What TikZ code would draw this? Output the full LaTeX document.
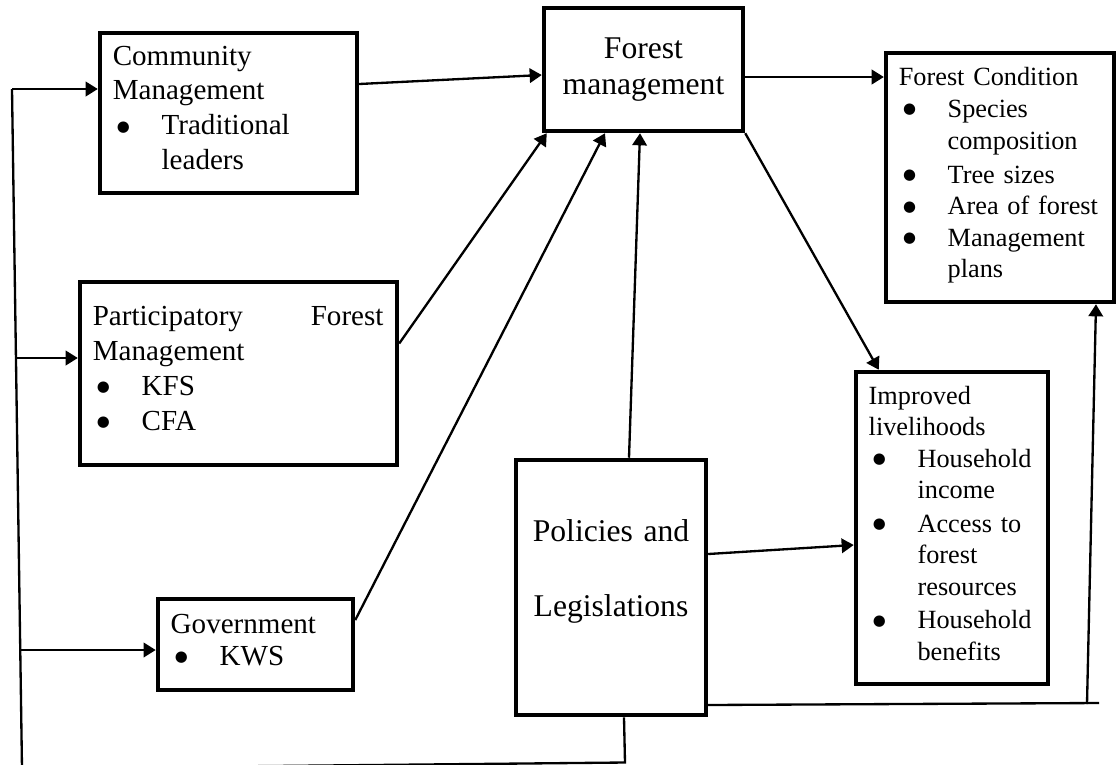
\documentclass[tikz,border=0pt]{standalone}
\usepackage{fontspec}
\setmainfont{Liberation Serif}
\newfontfamily\symfont{DejaVu Sans}
\usetikzlibrary{arrows.meta,calc}

% bullet with hanging text, as in the word-processor lists
\newcommand{\bitem}[1]{\makebox[21pt][l]{\hspace{1.8pt}\raisebox{1.5pt}{\symfont\fontsize{6.4}{6.5}\selectfont ●}}\begin{tabular}[t]{@{}l@{}}#1\end{tabular}}

\begin{document}
\begin{tikzpicture}[x=0.43pt, y=-0.43pt]
\tikzset{
    mybox/.style={rectangle, draw=black, line width=1.9pt, inner xsep=5.5pt, inner ysep=0pt, align=left},
    myarrow/.style={-{Triangle[length=5.2pt,width=6.2pt]}, line width=1pt},
    myline/.style={line width=1pt}
}
\useasboundingbox (0,0) rectangle (1117,764);

\node[mybox, text width=99.5pt, minimum height=68.8pt, font=\fontsize{12.5}{15}\selectfont] (comm) at (228.5,113) {Community\\Management\\\bitem{Traditional\\leaders}};
\node[mybox, align=center, text width=74.6pt, minimum height=52.9pt, font=\fontsize{13.6}{15.5}\selectfont] (fm) at (643.5,69.5) {Forest\\management};
\node[mybox, text width=87pt, minimum height=107.1pt, font=\fontsize{11.3}{13.6}\selectfont] (cond) at (1000,177.5) {Forest Condition\\\bitem{Species\\composition}\\\bitem{Tree sizes}\\\bitem{Area of forest}\\\bitem{Management\\plans}};
\node[mybox, text width=125.3pt, minimum height=78.7pt, font=\fontsize{12.5}{15}\selectfont] (pfm) at (238.5,373.5) {\makebox[125pt][l]{Participatory\hfill Forest}\\Management\\\bitem{KFS}\\\bitem{CFA}};
\node[mybox, text width=72.9pt, minimum height=39.1pt, font=\fontsize{12.5}{13.8}\selectfont] (gov) at (255.5,644.5) {Government\\\bitem{KWS}};
\node[mybox, align=center, text width=70.7pt, minimum height=109.7pt, font=\fontsize{13.6}{32.3}\selectfont] (pol) at (611,587.5) {Policies and\\Legislations\\[-15.5pt]\mbox{}};
\node[mybox, text width=71.6pt, minimum height=134.2pt, font=\fontsize{11.3}{13.5}\selectfont] (liv) at (952,528) {Improved\\livelihoods\\\bitem{Household\\income}\\\bitem{Access to\\forest\\resources}\\\bitem{Household\\benefits}};
% the empty last line lifts the policy text above the middle of its box

\draw[myarrow] ($(comm.east)+(0,-29)$) -- ($(fm.west)+(0,5.5)$);
\draw[myarrow] ($(pfm.east)+(0,-30)$) -- ($(fm.south west)+(5,0)$);
\draw[myarrow] ($(gov.east)+(0,-24.5)$) -- ($(fm.south)+(-38.5,0)$);
\draw[myarrow] ($(pol.north)+(18,0)$) -- ($(fm.south)+(-3.5,0)$);
\draw[myarrow] ($(fm.east)+(0,7.5)$) -- ($(cond.west)+(0,-100.5)$);
\draw[myarrow] (fm.south east) -- ($(liv.north west)+(25,0)$);
\draw[myarrow] ($(pol.east)+(0,-33.5)$) -- ($(liv.west)+(0,17)$);

% return line on the right
\coordinate (rturn) at (1087,704);
\coordinate (rend) at (1099,703);
\draw[myline] ($(pol.east)+(0,117.5)$) -- (rend);
\draw[myarrow] (rturn) -- ($(cond.south)+(96,0)$);

% feedback line round the bottom and up the left side
\coordinate (bmid) at (625,762.5);
\coordinate (lbot) at (22,768.5);
\coordinate (ltop) at (12,89);
\coordinate (lpfm) at (16,358);
\coordinate (lgov) at (20.3,650);
\draw[myline] ($(pol.south)+(13,0)$) -- (bmid) -- (lbot) -- (ltop);
\draw[myarrow] (ltop) -- (comm.west |- ltop);
\draw[myarrow] (lpfm) -- (pfm.west |- lpfm);
\draw[myarrow] (lgov) -- (gov.west |- lgov);

\end{tikzpicture}
\end{document}
